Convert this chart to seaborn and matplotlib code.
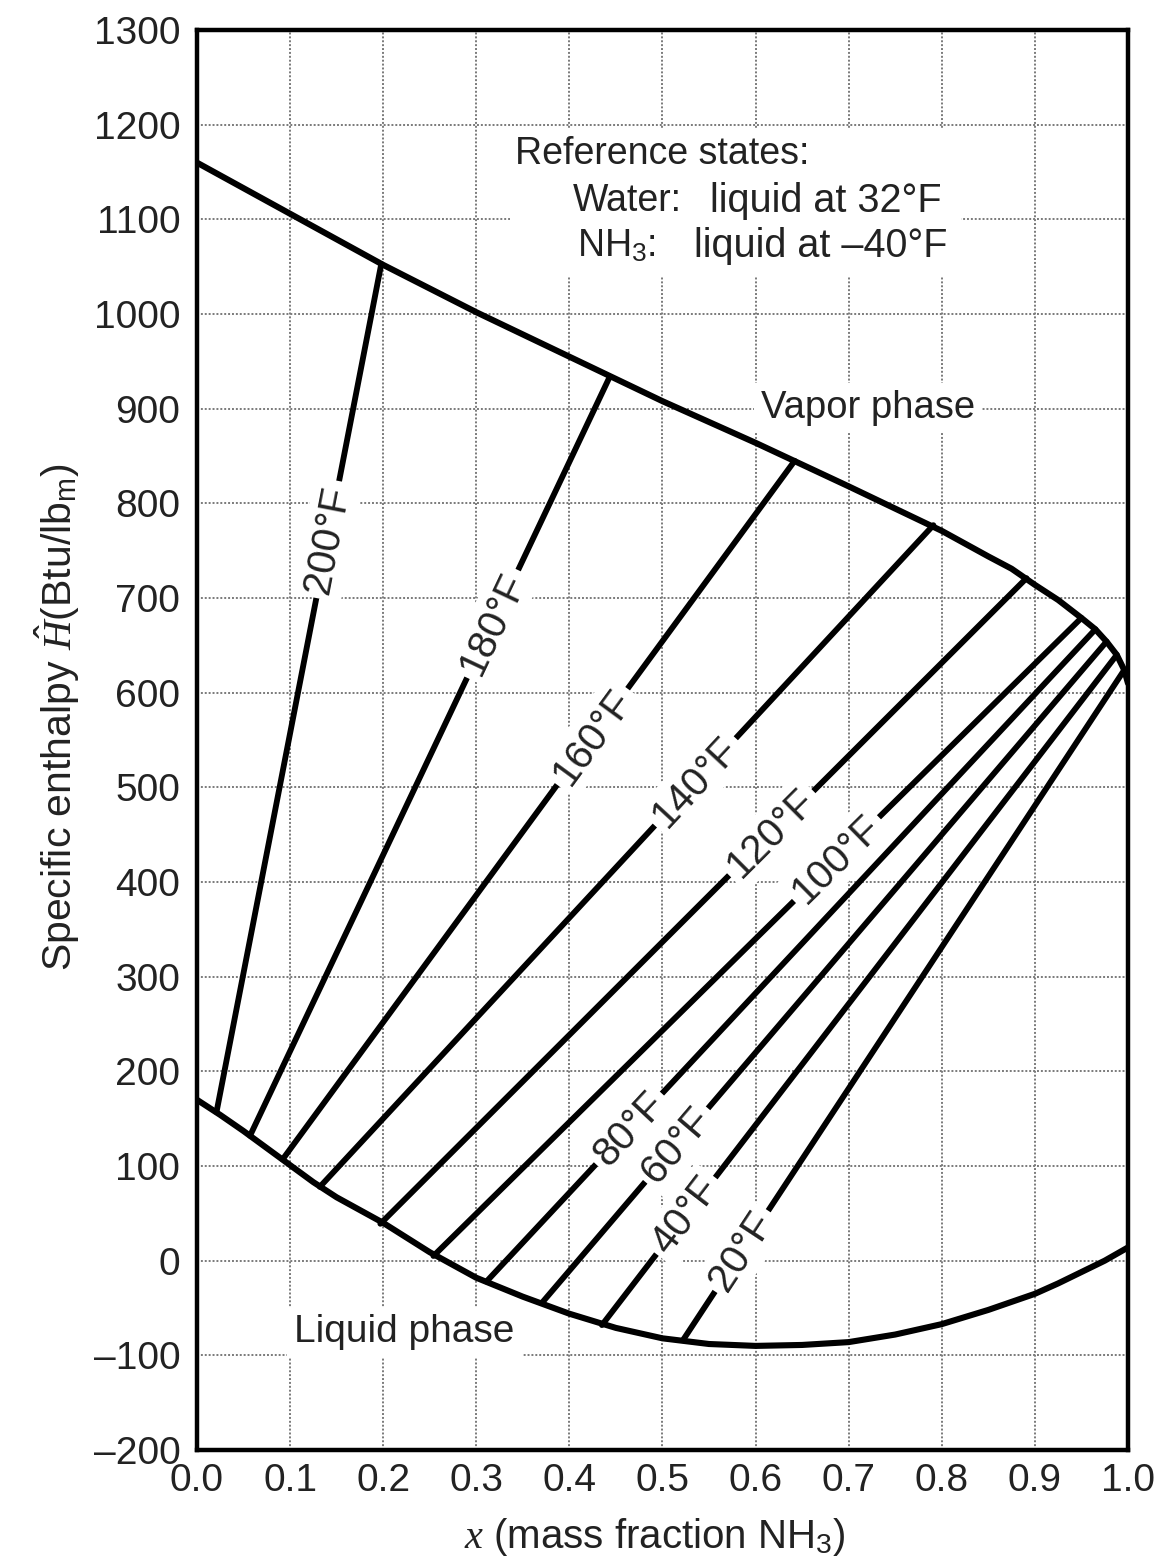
import numpy as np
import pandas as pd
import matplotlib.pyplot as plt
import seaborn as sns
from matplotlib.patches import Rectangle

# saturated liquid curve (x mass fraction NH3, H Btu/lbm)
liq_x = [0.0, 0.025, 0.05, 0.075, 0.1, 0.125, 0.15, 0.2, 0.25, 0.3, 0.35, 0.4,
         0.45, 0.5, 0.55, 0.6, 0.65, 0.7, 0.75, 0.8, 0.85, 0.9, 0.925, 0.95,
         0.975, 1.0]
liq_h = [170, 154, 137, 119, 101, 83, 67, 40, 9, -18, -38, -56,
         -71, -82, -88, -90, -89, -86, -78, -67, -52, -35, -24, -12,
         0, 14]

# saturated vapor curve
vap_x = [0.0, 0.1, 0.2, 0.3, 0.4, 0.5, 0.6, 0.7, 0.8, 0.85, 0.875, 0.9,
         0.925, 0.95, 0.965, 0.977, 0.988, 0.996, 1.0]
vap_h = [1160, 1106, 1052, 1002, 955, 908, 864, 818, 771, 744, 731, 714,
         698, 679, 667, 654, 640, 624, 610]

# tie lines
tie_temp = [200, 180, 160, 140, 120, 100, 80, 60, 40, 20]
tie_x_liq = [0.021, 0.057, 0.092, 0.132, 0.197, 0.254, 0.311, 0.371, 0.435, 0.522]
tie_h_liq = [157, 132, 107, 78, 39, 5, -22, -44, -68, -84]
tie_x_vap = [0.198, 0.443, 0.642, 0.791, 0.891, 0.950, 0.965, 0.977, 0.988, 0.996]
tie_h_vap = [1053, 933, 845, 777, 721, 679, 667, 654, 640, 624]

# label position along each tie line (0 = liquid end, 1 = vapor end)
lab_frac = [0.675, 0.675, 0.605, 0.612, 0.605, 0.622, 0.234, 0.238, 0.163, 0.133]

xticks = [0.0, 0.1, 0.2, 0.3, 0.4, 0.5, 0.6, 0.7, 0.8, 0.9, 1.0]
yticks = list(range(-200, 1301, 100))

sns.set_theme(style="white")
plt.rcParams["font.family"] = ["Liberation Sans", "DejaVu Sans"]
plt.rcParams["mathtext.fontset"] = "custom"
plt.rcParams["mathtext.rm"] = "Liberation Sans"
plt.rcParams["mathtext.it"] = "Liberation Serif:italic"

txt = "#222222"

fig = plt.figure(figsize=(11.73, 15.59), dpi=100)
ax = fig.add_axes([0.1679, 0.0699, 0.7937, 0.9108])

ties = pd.DataFrame({
    "temp": tie_temp * 2,
    "x": tie_x_liq + tie_x_vap,
    "h": tie_h_liq + tie_h_vap,
})

sns.lineplot(x=liq_x, y=liq_h, sort=False, color="black", lw=4.4, ax=ax, zorder=3)
sns.lineplot(x=vap_x, y=vap_h, sort=False, color="black", lw=4.4, ax=ax, zorder=3)
sns.lineplot(data=ties, x="x", y="h", units="temp", estimator=None, sort=False,
             color="black", lw=4.2, ax=ax, zorder=3)

for i, t in enumerate(tie_temp):
    dx = tie_x_vap[i] - tie_x_liq[i]
    dh = tie_h_vap[i] - tie_h_liq[i]
    ang = np.degrees(np.arctan2(dh, dx))
    f = lab_frac[i]
    ax.text(tie_x_liq[i] + f * dx, tie_h_liq[i] + f * dh, f"{t}°F", fontsize=29,
            color=txt, rotation=ang, transform_rotates_text=True,
            rotation_mode="anchor", ha="center", va="center", zorder=5,
            bbox=dict(facecolor="white", edgecolor="none", pad=4))

# white block behind the reference-state note
ax.add_patch(Rectangle((0.336, 1039), 0.485, 158, facecolor="white",
                       edgecolor="none", zorder=2))
ax.text(0.342, 1169, "Reference states:", fontsize=27, color=txt, ha="left", va="center", zorder=5)
ax.text(0.404, 1119, "Water:", fontsize=27, color=txt, ha="left", va="center", zorder=5)
ax.text(0.551, 1119, "liquid at 32°F", fontsize=28.5, color=txt, ha="left", va="center", zorder=5)
ax.text(0.408, 1072, "NH$_3$:", fontsize=27, color=txt, ha="left", va="center", zorder=5)
ax.text(0.534, 1072, "liquid at \u201340°F", fontsize=28.5, color=txt, ha="left", va="center", zorder=5)

ax.text(0.721, 901, "Vapor phase", fontsize=27.5, color=txt, ha="center", va="center", zorder=5,
        bbox=dict(facecolor="white", edgecolor="none", pad=5))
ax.text(0.223, -75, "Liquid phase", fontsize=28, color=txt, ha="center", va="center", zorder=5,
        bbox=dict(facecolor="white", edgecolor="none", pad=5))

ax.set_xlim(0, 1)
ax.set_ylim(-200, 1300)
ax.set_xticks(xticks)
ax.set_xticklabels([f"{v:.1f}" for v in xticks])
ax.set_yticks(yticks)
ax.set_yticklabels([str(v).replace("-", "\u2013") for v in yticks])
ax.tick_params(axis="both", length=0, labelsize=28, labelcolor=txt)
ax.tick_params(axis="y", pad=12)
ax.tick_params(axis="x", pad=9)

ax.grid(True, color="#7a7a7a", lw=1.4, linestyle=(0, (1, 1)), zorder=1)
ax.set_axisbelow(True)
for s in ax.spines.values():
    s.set_linewidth(3.2)
    s.set_color("black")

ax.set_xlabel("$x$ (mass fraction NH$_3$)", fontsize=29, color=txt, va="center")
ax.xaxis.set_label_coords(0.492, -0.061)
ax.set_ylabel("Specific enthalpy $\\hat{H}$(Btu/lb$_\\mathrm{m}$)", fontsize=29.5, color=txt, va="center")
ax.yaxis.set_label_coords(-0.150, 0.516)

fig.savefig("out.png", dpi=100)
